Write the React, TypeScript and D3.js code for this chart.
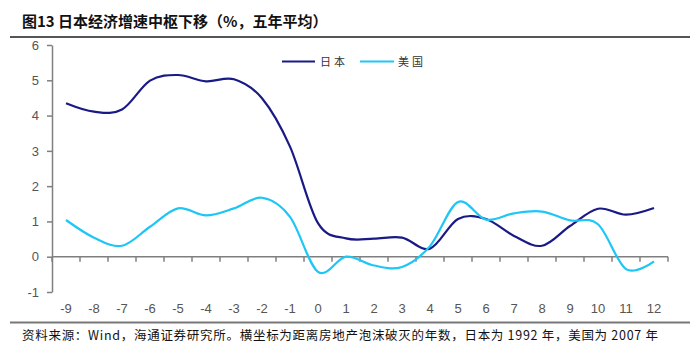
import React, { useRef, useEffect } from "react";
import * as d3 from "d3";

// ── Data ──────────────────────────────────────────────────────────────────────

const YEARS: number[] = [-9, -8, -7, -6, -5, -4, -3, -2, -1, 0, 1, 2, 3, 4, 5, 6, 7, 8, 9, 10, 11, 12];

const JAPAN: number[] = [
  4.35, 4.11, 4.17, 4.99, 5.15, 4.97, 5.03, 4.49, 3.12, 0.95, 0.52,
  0.51, 0.54, 0.23, 1.07, 1.07, 0.59, 0.31, 0.87, 1.36, 1.19, 1.38,
];

const US: number[] = [
  1.04, 0.54, 0.31, 0.85, 1.37, 1.17, 1.37, 1.67, 1.13, -0.43, 0.0,
  -0.25, -0.29, 0.3, 1.55, 1.05, 1.23, 1.28, 1.03, 0.92, -0.35, -0.13,
];

const Y_TICKS: number[] = [-1, 0, 1, 2, 3, 4, 5, 6];

const SERIES = [
  { name: "日本", values: JAPAN, color: "#1a1a86" },
  { name: "美国", values: US, color: "#1ec6f6" },
];

const TITLE = "图13 日本经济增速中枢下移（%，五年平均）";
const SOURCE = "资料来源：Wind，海通证券研究所。横坐标为距离房地产泡沫破灭的年数，日本为 1992 年，美国为 2007 年";

// ── Layout ────────────────────────────────────────────────────────────────────

const W = 700;
const H = 353;
const PLOT = { left: 52, right: 668, top: 45, bottom: 292 };
const AXIS_COLOR = "#7f7f7f";
const LABEL_COLOR = "#555";
const FONT_NUM = "'Liberation Sans', Arial, sans-serif";
const FONT_CJK = "'Noto Sans CJK SC', 'Liberation Sans', sans-serif";

export default function App() {
  const svgRef = useRef<SVGSVGElement>(null);

  useEffect(() => {
    if (!svgRef.current) return;
    const svg = d3.select(svgRef.current);
    svg.selectAll("*").remove();

    const x = d3
      .scaleBand<number>()
      .domain(YEARS)
      .range([PLOT.left, PLOT.right])
      .padding(0);
    const cx = (d: number) => (x(d) as number) + x.bandwidth() / 2;

    const y = d3.scaleLinear().domain([-1, 6]).range([PLOT.bottom, PLOT.top]);

    // Header / footer rules
    svg.append("line").attr("x1", 10).attr("x2", 690).attr("y1", 6).attr("y2", 6)
      .attr("stroke", "#333").attr("stroke-width", 2);
    svg.append("line").attr("x1", 10).attr("x2", 690).attr("y1", 37).attr("y2", 37)
      .attr("stroke", "#555").attr("stroke-width", 2);
    svg.append("line").attr("x1", 10).attr("x2", 690).attr("y1", 322.5).attr("y2", 322.5)
      .attr("stroke", "#777").attr("stroke-width", 2);

    svg.append("text")
      .attr("x", 22).attr("y", 27)
      .attr("font-family", FONT_CJK).attr("font-size", 15).attr("font-weight", "bold")
      .attr("fill", "#111")
      .text(TITLE);

    svg.append("text")
      .attr("x", 22).attr("y", 340)
      .attr("font-family", FONT_CJK).attr("font-size", 12.5)
      .attr("fill", "#111")
      .attr("textLength", 636).attr("lengthAdjust", "spacing")
      .text(SOURCE);

    // Y axis
    const yAxis = svg.append("g").attr("transform", `translate(${PLOT.left},0)`)
      .call(d3.axisLeft(y).tickValues(Y_TICKS).tickSize(5).tickSizeOuter(0).tickPadding(8)
        .tickFormat((d) => String(d)));
    yAxis.select(".domain").attr("stroke", AXIS_COLOR).attr("stroke-width", 1.5);
    yAxis.selectAll(".tick line").attr("stroke", AXIS_COLOR).attr("stroke-width", 1.5);
    yAxis.selectAll(".tick text")
      .attr("fill", LABEL_COLOR).attr("font-size", 13).attr("font-family", FONT_NUM);

    // X axis at zero, ticks at band edges
    const zeroY = y(0);
    const edges = [...YEARS.map((d) => x(d) as number), PLOT.right];
    const xg = svg.append("g");
    xg.append("line").attr("x1", PLOT.left).attr("x2", PLOT.right)
      .attr("y1", zeroY).attr("y2", zeroY)
      .attr("stroke", AXIS_COLOR).attr("stroke-width", 1.5);
    xg.selectAll("line.tick").data(edges).enter().append("line")
      .attr("class", "tick")
      .attr("x1", (d) => d).attr("x2", (d) => d)
      .attr("y1", zeroY).attr("y2", zeroY + 5)
      .attr("stroke", AXIS_COLOR).attr("stroke-width", 1.5);
    xg.selectAll("text").data(YEARS).enter().append("text")
      .attr("x", (d) => cx(d)).attr("y", 313)
      .attr("text-anchor", "middle")
      .attr("fill", LABEL_COLOR).attr("font-size", 13).attr("font-family", FONT_NUM)
      .text((d) => String(d));

    // Lines
    const line = d3.line<number>()
      .x((_, i) => cx(YEARS[i]))
      .y((d) => y(d))
      .curve(d3.curveCatmullRom.alpha(0));

    SERIES.forEach((s) => {
      svg.append("path")
        .datum(s.values)
        .attr("d", line)
        .attr("fill", "none")
        .attr("stroke", s.color)
        .attr("stroke-width", 2.2)
        .attr("stroke-linejoin", "round");
    });

    // Legend
    const legendItems = [
      { x1: 282, x2: 315, tx: 320 },
      { x1: 360, x2: 394, tx: 398 },
    ];
    SERIES.forEach((s, i) => {
      const it = legendItems[i];
      svg.append("line").attr("x1", it.x1).attr("x2", it.x2).attr("y1", 61.5).attr("y2", 61.5)
        .attr("stroke", s.color).attr("stroke-width", 2.2);
      svg.append("text").attr("x", it.tx).attr("y", 66)
        .attr("font-family", FONT_CJK).attr("font-size", 11).attr("letter-spacing", 3)
        .attr("fill", "#333")
        .text(s.name);
    });
  }, []);

  return (
    <div style={{ margin: -8 }}>
      <svg ref={svgRef} width={W} height={H} style={{ display: "block", background: "#fff" }} />
    </div>
  );
}
